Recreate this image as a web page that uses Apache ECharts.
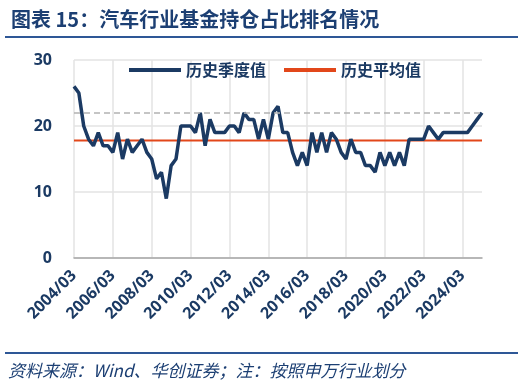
<!DOCTYPE html>
<html>
<head>
<meta charset="utf-8">
<script src="https://cdn.jsdelivr.net/npm/echarts@6/dist/echarts.min.js"></script>
<style>
html,body{margin:0;padding:0;background:#fff;}
#c{width:524px;height:387px;}
</style>
</head>
<body>
<div id="c"></div>
<script>
// quarterly ranking values 2004/03 .. 2025/03
const quarterlyValues = [26,25,20,18,17,19,17,17,16,19,
  15,18,16,17,18,16,15,12,13,9,
  14,15,20,20,20,19,22,17,21,19,
  19,19,20,20,19,22,21,21,18,21,
  18,22,23,19,19,16,14,16,14,19,
  16,19,16,19,18,16,15,18,16,16,
  14,14,13,16,14,16,14,16,14,18,
  18,18,18,20,19,18,19,19,19,19,
  19,19,20,21,22];
const averageValue = 17.8;
const referenceValue = 22;
const seriesNames = ['历史季度值','历史平均值'];
const yTicks = [0,10,20,30];
const titleText = '图表 15：汽车行业基金持仓占比排名情况';
const sourceText = '资料来源：Wind、华创证券；注：按照申万行业划分';

const categories = [];
const months = ['03','06','09','12'];
for (let y = 2004; y <= 2025; y++) {
  for (const m of months) {
    if (categories.length < quarterlyValues.length) categories.push(y + '/' + m);
  }
}
const avgData = categories.map(() => averageValue);

const navy = '#1b3a63';
const orange = '#e2471a';
const chart = echarts.init(document.getElementById('c'));
chart.setOption({
  animation: false,
  backgroundColor: '#fff',
  title: {
    text: titleText,
    left: 6, top: 4,
    textStyle: {fontFamily: 'Noto Sans CJK SC', fontSize: 20, fontWeight: 'bold', color: '#1c3f73'}
  },
  graphic: [
    {type: 'line', shape: {x1: 5, y1: 37, x2: 518, y2: 37}, style: {stroke: '#2e5796', lineWidth: 2}},
    {type: 'line', shape: {x1: 5, y1: 353, x2: 518, y2: 353}, style: {stroke: '#2e5796', lineWidth: 2}},
    {type: 'text', left: 8, top: 362, style: {text: sourceText, fill: '#1c3f73', font: 'italic 17px "Noto Sans CJK SC"'}}
  ],
  legend: {
    top: 57, left: 124,
    itemWidth: 52, itemHeight: 4, itemGap: 18,
    icon: 'rect',
    data: seriesNames,
    textStyle: {fontFamily: 'Noto Sans CJK SC', fontSize: 16, fontWeight: 'bold', color: navy},
    backgroundColor: 'rgba(255,255,255,0)'
  },
  grid: {left: 74, right: 42, top: 60, bottom: 129, containLabel: false},
  xAxis: {
    type: 'category',
    data: categories,
    boundaryGap: false,
    axisLine: {lineStyle: {color: '#a6a6a6', width: 1.5}},
    axisTick: {show: false},
    splitLine: {show: true, interval: 7, lineStyle: {color: '#e3e3e3', width: 1.5}},
    axisLabel: {interval: 7, rotate: 45, margin: 15, color: navy, fontFamily: 'Open Sans', fontWeight: 'bold', fontSize: 16}
  },
  yAxis: {
    type: 'value',
    min: yTicks[0], max: yTicks[yTicks.length - 1], interval: 10,
    axisLine: {show: false},
    axisTick: {show: false},
    splitLine: {lineStyle: {color: '#e3e3e3', width: 1.5}},
    axisLabel: {margin: 22, color: navy, fontFamily: 'Open Sans', fontWeight: 'bold', fontSize: 16}
  },
  series: [
    {
      name: seriesNames[0], type: 'line', data: quarterlyValues,
      symbol: 'none', z: 3,
      lineStyle: {color: navy, width: 3.5},
      itemStyle: {color: navy},
      markLine: {
        silent: true, symbol: 'none', label: {show: false},
        lineStyle: {color: '#b3b3b3', type: [6, 4], width: 1.5},
        data: [{yAxis: referenceValue}]
      }
    },
    {
      name: seriesNames[1], type: 'line', data: avgData,
      symbol: 'none', z: 2,
      lineStyle: {color: orange, width: 2},
      itemStyle: {color: orange}
    }
  ]
});
</script>
</body>
</html>
